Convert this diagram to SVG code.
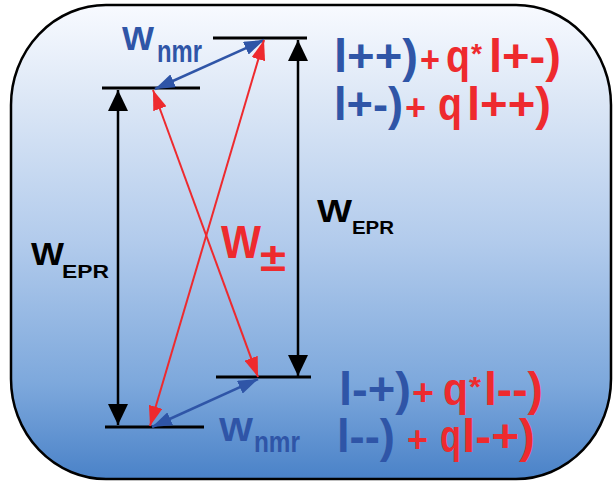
<svg xmlns="http://www.w3.org/2000/svg" width="613" height="482" viewBox="0 0 613 482">
<defs>
<linearGradient id="bg" x1="0" y1="0" x2="0" y2="1">
<stop offset="0" stop-color="#f8faff"/>
<stop offset="0.2" stop-color="#dce7f6"/>
<stop offset="0.5" stop-color="#b2cbec"/>
<stop offset="0.8" stop-color="#7da8dc"/>
<stop offset="1" stop-color="#4a82c8"/>
</linearGradient>
<marker id="ak" viewBox="0 0 21 20" refX="21" refY="10" markerWidth="21" markerHeight="20" markerUnits="userSpaceOnUse" orient="auto-start-reverse"><path d="M0,0 L21,10 L0,20 z" fill="#000"/></marker>
<marker id="ar" viewBox="0 0 20 14" refX="20" refY="7" markerWidth="20" markerHeight="14" markerUnits="userSpaceOnUse" orient="auto-start-reverse"><path d="M0,0 L20,7 L0,14 z" fill="#ee2a2e"/></marker>
<marker id="ab" viewBox="0 0 20 14" refX="20" refY="7" markerWidth="20" markerHeight="14" markerUnits="userSpaceOnUse" orient="auto-start-reverse"><path d="M0,0 L20,7 L0,14 z" fill="#2f55a7"/></marker>
</defs>
<style>
text{font-family:"Liberation Sans",Arial,sans-serif;font-weight:bold}
.lvl{stroke:#000;stroke-width:3}
.k{stroke:#000;stroke-width:2.5;fill:none}
.r{stroke:#ee2a2e;stroke-width:2;fill:none}
.b{stroke:#2f55a7;stroke-width:2.5;fill:none}
.blue{fill:#2f55a7}
.red{fill:#ee2a2e}
.blk{fill:#000}
.ket{font-size:46px}
.pl{font-size:37px}
.st{font-size:28px}
</style>
<rect id="frame" x="11" y="5" width="600" height="474" rx="95" ry="100" fill="url(#bg)" stroke="#000" stroke-width="2.5"/>
<g id="level-top-right"><line class="lvl" x1="213" y1="38" x2="307" y2="38"/></g>
<g id="level-upper-left"><line class="lvl" x1="102" y1="88" x2="200" y2="88"/></g>
<g id="level-lower-right"><line class="lvl" x1="216" y1="377" x2="311" y2="377"/></g>
<g id="level-bottom-left"><line class="lvl" x1="105" y1="427" x2="204" y2="427"/></g>
<g id="connectors">
<line class="k" x1="118" y1="90" x2="118" y2="425" marker-start="url(#ak)" marker-end="url(#ak)"/>
<line class="k" x1="298" y1="40" x2="298" y2="376" marker-start="url(#ak)" marker-end="url(#ak)"/>
<line class="b" x1="155" y1="89" x2="264" y2="40" marker-start="url(#ab)" marker-end="url(#ab)"/>
<line class="r" x1="153" y1="90" x2="258" y2="377" marker-start="url(#ar)" marker-end="url(#ar)"/>
<line class="r" x1="150" y1="426" x2="264" y2="40" marker-start="url(#ar)" marker-end="url(#ar)"/>
<line class="b" x1="152" y1="427" x2="258" y2="379" marker-start="url(#ab)" marker-end="url(#ab)"/>
</g>
<g id="label-wnmr-top" class="blue">
<text x="122" y="50" font-size="34" textLength="32" lengthAdjust="spacingAndGlyphs">W</text>
<text x="157" y="62" font-size="31" textLength="45" lengthAdjust="spacingAndGlyphs">nmr</text>
</g>
<g id="label-wnmr-bottom" class="blue">
<text x="219" y="441" font-size="34" textLength="34" lengthAdjust="spacingAndGlyphs">W</text>
<text x="254" y="452" font-size="30" textLength="46" lengthAdjust="spacingAndGlyphs">nmr</text>
</g>
<g id="label-wepr-left" class="blk">
<text x="31" y="265" font-size="31" textLength="33" lengthAdjust="spacingAndGlyphs">W</text>
<text x="62" y="278" font-size="18" textLength="47" lengthAdjust="spacingAndGlyphs">EPR</text>
</g>
<g id="label-wepr-right" class="blk">
<text x="317" y="222" font-size="31" textLength="35" lengthAdjust="spacingAndGlyphs">W</text>
<text x="352" y="234" font-size="18" textLength="42" lengthAdjust="spacingAndGlyphs">EPR</text>
</g>
<g id="label-wpm" class="red">
<text x="221" y="258" font-size="46" textLength="40" lengthAdjust="spacingAndGlyphs">W</text>
<text x="260" y="271" font-size="40" font-weight="normal" textLength="26" lengthAdjust="spacingAndGlyphs">±</text>
</g>
<g id="state-upper">
<text class="ket blue" x="334" y="72" textLength="84" lengthAdjust="spacingAndGlyphs">l++)</text>
<text class="pl red" x="420" y="72" textLength="20" lengthAdjust="spacingAndGlyphs">+</text>
<text class="ket red" x="446" y="72" textLength="24" lengthAdjust="spacingAndGlyphs">q</text>
<text class="st red" x="471" y="63" textLength="11" lengthAdjust="spacingAndGlyphs">*</text>
<text class="ket red" x="489" y="72" textLength="72" lengthAdjust="spacingAndGlyphs">l+-)</text>
<text class="ket blue" x="334" y="120" textLength="69" lengthAdjust="spacingAndGlyphs">l+-)</text>
<text class="pl red" x="405" y="120" textLength="21" lengthAdjust="spacingAndGlyphs">+</text>
<text class="ket red" x="438" y="120" textLength="24" lengthAdjust="spacingAndGlyphs">q</text>
<text class="ket red" x="467" y="120" textLength="84" lengthAdjust="spacingAndGlyphs">l++)</text>
</g>
<g id="state-lower">
<text class="ket blue" x="339" y="405" textLength="72" lengthAdjust="spacingAndGlyphs">l-+)</text>
<text class="pl red" x="412" y="405" textLength="22" lengthAdjust="spacingAndGlyphs">+</text>
<text class="ket red" x="443" y="405" textLength="25" lengthAdjust="spacingAndGlyphs">q</text>
<text class="st red" x="469" y="396" textLength="12" lengthAdjust="spacingAndGlyphs">*</text>
<text class="ket red" x="484" y="405" textLength="59" lengthAdjust="spacingAndGlyphs">l--)</text>
<text class="ket blue" x="337" y="452" textLength="58" lengthAdjust="spacingAndGlyphs">l--)</text>
<text class="pl red" x="407" y="452" textLength="21" lengthAdjust="spacingAndGlyphs">+</text>
<text class="ket red" x="440" y="452" textLength="21" lengthAdjust="spacingAndGlyphs">q</text>
<text class="ket red" x="462" y="452" textLength="73" lengthAdjust="spacingAndGlyphs">l-+)</text>
</g>
</svg>
